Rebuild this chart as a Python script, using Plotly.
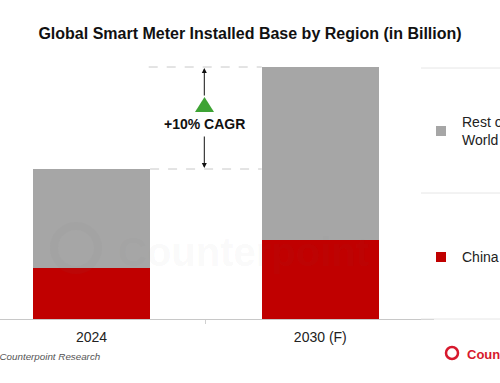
import plotly.graph_objects as go

# ---- data ----
years = ["2024", "2030 (F)"]
china = [0.51, 0.79]
rest_of_world = [0.99, 1.73]
series_names = ["China", "Rest of<br>World"]
series_colors = ["#c00000", "#a6a6a6"]
cagr_label = "+10% CAGR"
title_text = "Global Smart Meter Installed Base by Region (in Billion)"
source_text = "Source: Counterpoint Research"

totals = [c + r for c, r in zip(china, rest_of_world)]

W, H = 500, 383
ML, MR, MT, MB = 0, 66, 60, 64
PW = W - ML - MR
PH = H - MT - MB
FONT = "Liberation Sans, Arial"

def px(x):  # pixel -> paper x
    return (x - ML) / PW

def py(y):  # pixel -> paper y
    return (H - MB - y) / PH

fig = go.Figure()
fig.add_bar(x=years, y=china, name=series_names[0], marker_color=series_colors[0],
            marker_line_width=0, showlegend=False)
fig.add_bar(x=years, y=rest_of_world, name=series_names[1], marker_color=series_colors[1],
            marker_line_width=0, showlegend=False)

bargap = 0.488
half = (1 - bargap) / 2

shapes = []
annotations = []

# dashed guide lines at totals
shapes.append(dict(type="line", xref="x", yref="y", x0=0.25, x1=1 - half,
                   y0=totals[1], y1=totals[1], line=dict(color="#c8c8c8", width=1, dash="dash")))
shapes.append(dict(type="line", xref="x", yref="y", x0=half, x1=1 - half,
                   y0=totals[0], y1=totals[0], line=dict(color="#c8c8c8", width=1, dash="dash")))

# arrows
ax_x = 0.493
annotations.append(dict(xref="x", yref="y", axref="x", ayref="y", x=ax_x, y=totals[1] - 0.01,
                        ax=ax_x, ay=2.22, text="", showarrow=True, arrowhead=2, arrowsize=1,
                        arrowwidth=1, arrowcolor="#111"))
annotations.append(dict(xref="x", yref="y", axref="x", ayref="y", x=ax_x, y=totals[0] + 0.01,
                        ax=ax_x, ay=1.84, text="", showarrow=True, arrowhead=2, arrowsize=1,
                        arrowwidth=1, arrowcolor="#111"))
# green triangle
tx, ty0, ty1 = 204.5, 97, 112
shapes.append(dict(type="path", xref="paper", yref="paper",
                   path=f"M {px(tx-9.5)} {py(ty1)} L {px(tx+9.5)} {py(ty1)} L {px(tx)} {py(ty0)} Z",
                   fillcolor="#3ea334", line=dict(width=0)))
annotations.append(dict(xref="paper", yref="paper", x=px(204), y=py(124), text=f"<b>{cagr_label}</b>",
                        showarrow=False, font=dict(size=14, color="#111", family=FONT),
                        xanchor="center", yanchor="middle"))

# watermark
shapes.append(dict(type="circle", xref="paper", yref="paper",
                   x0=px(54), x1=px(98), y0=py(270), y1=py(226),
                   line=dict(color="rgba(120,120,120,0.05)", width=8)))
annotations.append(dict(xref="paper", yref="paper", x=px(116), y=py(252), text="<b>Counterpoint</b>",
                        showarrow=False, xanchor="left", yanchor="middle",
                        font=dict(size=40, color="rgba(120,120,120,0.05)", family=FONT)))

# legend divider lines
for yy in [68, 193, 319]:
    shapes.append(dict(type="line", xref="paper", yref="paper", x0=px(421), x1=px(500),
                       y0=py(yy), y1=py(yy), line=dict(color="#e6e6e6", width=1)))

# legend items
leg_y = [257, 131]
for name, color, yy in zip(series_names, series_colors, leg_y):
    shapes.append(dict(type="rect", xref="paper", yref="paper", x0=px(436), x1=px(446),
                       y0=py(yy + 5), y1=py(yy - 5), fillcolor=color, line=dict(width=0)))
    annotations.append(dict(xref="paper", yref="paper", x=px(460), y=py(yy), text=name,
                            showarrow=False, xanchor="left", yanchor="middle", align="left",
                            font=dict(size=14, color="#222", family=FONT)))

# source
annotations.append(dict(xref="paper", yref="paper", x=px(102), y=py(356), text=f"<i>{source_text}</i>",
                        showarrow=False, xanchor="right", yanchor="middle",
                        font=dict(size=9.8, color="#555", family=FONT)))

# logo bottom right
shapes.append(dict(type="circle", xref="paper", yref="paper", x0=px(446), x1=px(458),
                   y0=py(359), y1=py(347), line=dict(color="#d7192d", width=2.5)))
annotations.append(dict(xref="paper", yref="paper", x=px(465), y=py(354), text="<b>Counterpoint</b>",
                        showarrow=False, xanchor="left", yanchor="middle",
                        font=dict(size=13, color="#d7192d", family=FONT)))

fig.update_layout(
    width=W, height=H, barmode="stack", bargap=bargap,
    margin=dict(l=ML, r=MR, t=MT, b=MB),
    paper_bgcolor="white", plot_bgcolor="white",
    title=dict(text=f"<b>{title_text}</b>", x=0.5, xref="container", xanchor="center",
               y=1 - 33 / H, yref="container", yanchor="middle",
               font=dict(size=16, color="#111", family=FONT)),
    xaxis=dict(type="category", range=[-0.4, 1.497], showline=True, linecolor="#c8c8c8", linewidth=1,
               ticks="outside", ticklen=4, tickcolor="#d0d0d0", tickson="boundaries",
               ticklabelstandoff=5,
               showgrid=False, tickfont=dict(size=14, color="#222", family=FONT)),
    yaxis=dict(range=[0, PH / 100], visible=False, showgrid=False, zeroline=False),
    shapes=shapes, annotations=annotations,
)

fig.write_html("out.html", config={"displayModeBar": False},
               post_script="document.body.style.margin='0';")
